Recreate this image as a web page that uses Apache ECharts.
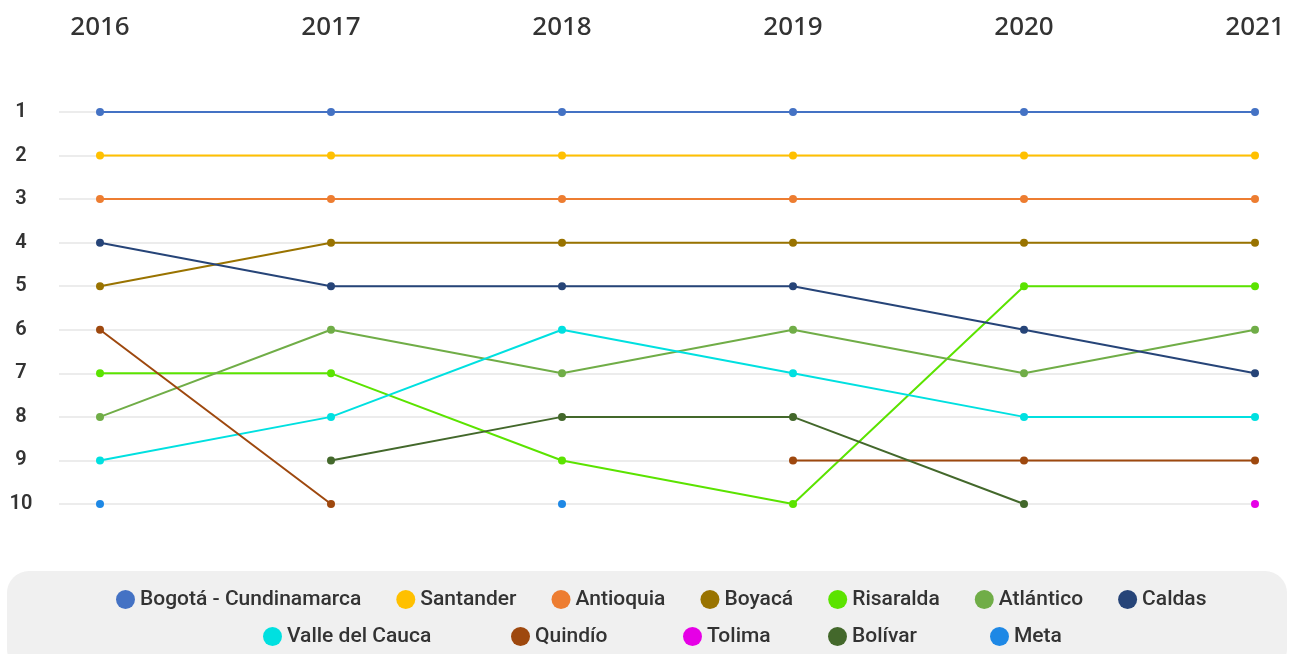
<!DOCTYPE html>
<html>
<head>
<meta charset="utf-8">
<script src="https://cdn.jsdelivr.net/npm/echarts@6/dist/echarts.min.js"></script>
<style>
html,body{margin:0;padding:0;background:#fff;}
#chart{width:1292px;height:654px;}
</style>
</head>
<body>
<div id="chart"></div>
<script>
// ---- data ----
var years = ['2016', '2017', '2018', '2019', '2020', '2021'];
var rankTicks = [1, 2, 3, 4, 5, 6, 7, 8, 9, 10];
var seriesNames = ['Bogotá - Cundinamarca', 'Santander', 'Antioquia', 'Boyacá', 'Risaralda', 'Atlántico', 'Caldas', 'Valle del Cauca', 'Quindío', 'Tolima', 'Bolívar', 'Meta'];
var bogota    = [1, 1, 1, 1, 1, 1];
var santander = [2, 2, 2, 2, 2, 2];
var antioquia = [3, 3, 3, 3, 3, 3];
var boyaca    = [5, 4, 4, 4, 4, 4];
var risaralda = [7, 7, 9, 10, 5, 5];
var atlantico = [8, 6, 7, 6, 7, 6];
var caldas    = [4, 5, 5, 5, 6, 7];
var valle     = [9, 8, 6, 7, 8, 8];
var quindio   = [6, 10, null, 9, 9, 9];
var tolima    = [null, null, null, null, null, 10];
var bolivar   = [null, 9, 8, 8, 10, null];
var meta      = [10, null, 10, null, null, null];
var seriesValues = [bogota, santander, antioquia, boyaca, risaralda, atlantico, caldas, valle, quindio, tolima, bolivar, meta];

// ---- styles / layout ----
var colors = ['#4472C4', '#FFC000', '#ED7D31', '#997300', '#5BE300', '#70AD47', '#264478', '#00E0E0', '#9E480E', '#E600E6', '#43682B', '#1E88E5'];
var row1 = seriesNames.slice(0, 7);
var row2 = seriesNames.slice(7);
var row2Left = [258, 506, 678, 823, 985];

var chart = echarts.init(document.getElementById('chart'), null, {renderer: 'canvas'});

var GT = 112, GB = 654 - 504;

var series = seriesNames.map(function (n, i) {
  return {
    name: n,
    type: 'line',
    xAxisIndex: 1,
    yAxisIndex: 1,
    data: seriesValues[i],
    connectNulls: false,
    clip: false,
    symbol: 'circle',
    symbolSize: 8,
    showSymbol: true,
    showAllSymbol: true,
    lineStyle: {width: 2, color: colors[i]},
    itemStyle: {color: colors[i]},
    emphasis: {disabled: true}
  };
});

var legendText = {fontFamily: 'Roboto', fontSize: 21, fontWeight: 500, color: '#333'};

var legends = [{
  data: row1,
  left: 111,
  top: 584,
  itemWidth: 19,
  itemHeight: 19,
  itemGap: 35,
  icon: 'circle',
  textStyle: legendText,
  selectedMode: false
}];
row2.forEach(function (n, i) {
  legends.push({
    data: [n],
    left: row2Left[i],
    top: 621,
    itemWidth: 19,
    itemHeight: 19,
    icon: 'circle',
    textStyle: legendText,
    selectedMode: false
  });
});

var option = {
  animation: false,
  backgroundColor: '#ffffff',
  color: colors,
  graphic: [{
    type: 'rect',
    z: -10,
    shape: {x: 7, y: 571, width: 1280, height: 100, r: 22},
    style: {fill: '#f0f0f0'}
  }],
  legend: legends,
  grid: [
    {left: 59, right: 37, top: GT, bottom: GB},
    {left: 100, right: 37, top: GT, bottom: GB}
  ],
  xAxis: [{
    gridIndex: 0,
    type: 'category',
    data: years,
    show: false
  }, {
    gridIndex: 1,
    type: 'category',
    data: years,
    position: 'top',
    boundaryGap: false,
    axisLine: {show: false},
    axisTick: {show: false},
    splitLine: {show: false},
    axisLabel: {
      margin: 71,
      fontFamily: 'Noto Sans',
      fontSize: 26,
      fontWeight: 500,
      color: '#333'
    }
  }],
  yAxis: [{
    gridIndex: 0,
    type: 'value',
    inverse: true,
    min: 1,
    max: 10,
    interval: 1,
    axisLine: {show: false},
    axisTick: {show: false},
    splitLine: {show: true, lineStyle: {color: '#e6e6e6', width: 1.5}},
    axisLabel: {
      margin: 38,
      align: 'center',
      fontFamily: 'Roboto',
      fontSize: 20,
      fontWeight: 600,
      color: '#333',
      formatter: function (v) { return rankTicks.indexOf(v) >= 0 ? String(v) : ''; }
    }
  }, {
    gridIndex: 1,
    type: 'value',
    inverse: true,
    min: 1,
    max: 10,
    show: false,
    splitLine: {show: false}
  }],
  series: series
};
chart.setOption(option);
</script>
</body>
</html>
